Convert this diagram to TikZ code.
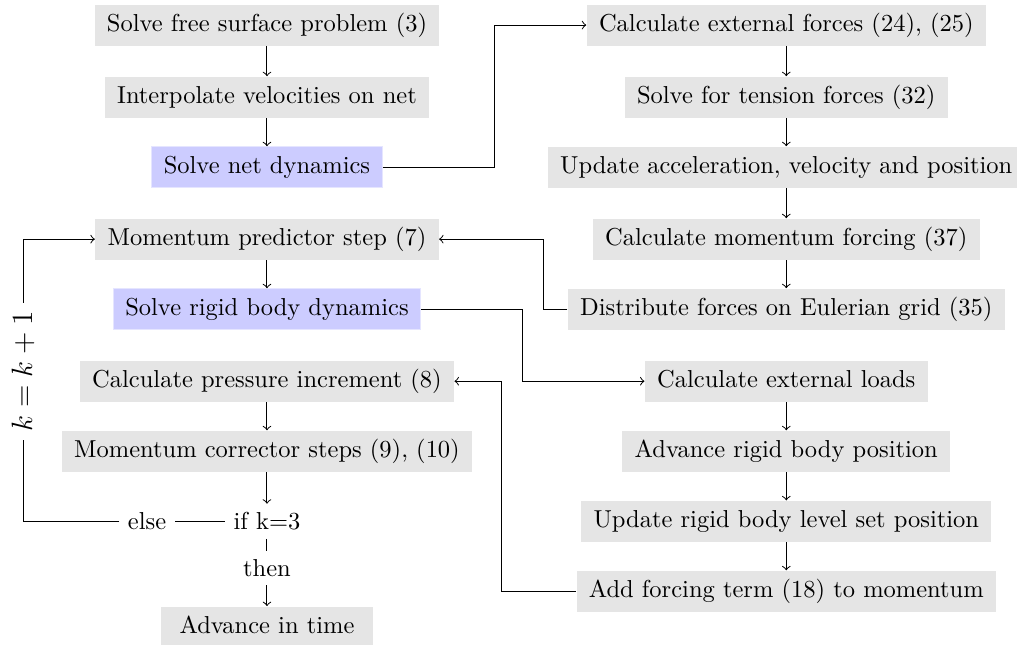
\documentclass[tikz,border=0pt]{standalone}
\begin{document}
\begin{tikzpicture}[box/.style={fill=gray!20, inner xsep=5pt, text height=7.5pt, text depth=2.5pt},
  solver/.style={box, fill=blue!20, draw=blue!10}]
\useasboundingbox (0,0.36) rectangle (14.59,-8.88);

% left column
\node[box] (surf) at (3.83,0) {Solve free surface problem (3)};
\node[box] (interp) at (3.83,-1.033) {Interpolate velocities on net};
\node[solver] (netdyn) at (3.83,-2.038) {Solve net dynamics};
\node[box] (pred) at (3.83,-3.071) {Momentum predictor step (7)};
\node[solver] (rigid) at (3.83,-4.075) {Solve rigid body dynamics};
\node[box] (press) at (3.83,-5.109) {Calculate pressure increment (8)};
\node[box] (corr) at (3.83,-6.113) {Momentum corrector steps (9), (10)};
\node (ifk) at (3.83,-7.118) {if k=3};
\node (else) at (2.11,-7.118) {else};
\node (then) at (3.83,-7.79) {then};
\node[box, minimum width=3.05cm] (advtime) at (3.83,-8.635) {Advance in time};

% right column
\node[box] (extf) at (11.28,0) {Calculate external forces (24), (25)};
\node[box] (tension) at (11.28,-1.033) {Solve for tension forces (32)};
\node[box] (update) at (11.28,-2.038) {Update acceleration, velocity and position};
\node[box] (forcing) at (11.28,-3.071) {Calculate momentum forcing (37)};
\node[box] (distr) at (11.28,-4.075) {Distribute forces on Eulerian grid (35)};
\node[box] (loads) at (11.28,-5.109) {Calculate external loads};
\node[box] (advrb) at (11.28,-6.113) {Advance rigid body position};
\node[box] (levelset) at (11.28,-7.118) {Update rigid body level set position};
\node[box] (addforce) at (11.28,-8.122) {Add forcing term (18) to momentum};

\draw[->] (surf) -- (interp);
\draw[->] (interp) -- (netdyn);
\draw[->] (netdyn) -| (7.09,0) -- (extf);
\draw[->] (extf) -- (tension);
\draw[->] (tension) -- (update);
\draw[->] (update) -- (forcing);
\draw[->] (forcing) -- (distr);
\draw[->] (distr) -| (7.79,-3.071) -- (pred);
\draw[->] (pred) -- (rigid);
\draw[->] (rigid) -| (7.49,-5.109) -- (loads);
\draw[->] (loads) -- (advrb);
\draw[->] (advrb) -- (levelset);
\draw[->] (levelset) -- (addforce);
\draw[->] (addforce) -| (7.20,-5.109) -- (press);
\draw[->] (press) -- (corr);
\draw[->] (corr) -- (ifk);
\draw (ifk) -- (else);
\draw[->] (else) -- (0.33,-7.118) -- node[pos=0.53, sloped, fill=white] {\large $k=k+1$} (0.33,-3.071) -- (pred);
\draw (ifk) -- (then);
\draw[->] (then) -- (advtime);
\end{tikzpicture}
\end{document}
